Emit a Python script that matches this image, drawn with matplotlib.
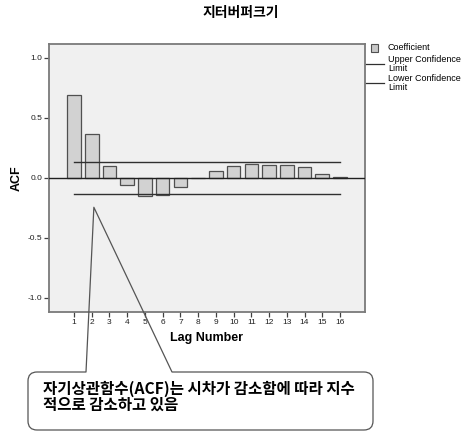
import matplotlib
matplotlib.use('Agg')
import matplotlib.pyplot as plt
from matplotlib.path import Path
from matplotlib.patches import PathPatch, Rectangle
from matplotlib.lines import Line2D

W, H = 471, 432

# acf of jitter buffer size
lags = list(range(1, 17))
acf = [0.687, 0.364, 0.100, -0.061, -0.152, -0.142, -0.075, 0.001,
       0.056, 0.100, 0.117, 0.110, 0.110, 0.087, 0.036, 0.004]
upper = [0.135] * 16
lower = [-0.137] * 16

yticks = [-1.0, -0.5, 0.0, 0.5, 1.0]
yticklabels = ['-1.0', '-0.5', '0.0', '0.5', '1.0']

title = '지터버퍼크기'
note = '자기상관함수(ACF)는 시차가 감소함에 따라 지수\n적으로 감소하고 있음'
legend_labels = ['Coefficient', 'Upper Confidence\nLimit', 'Lower Confidence\nLimit']

kr = ['Noto Sans CJK KR', 'DejaVu Sans']
lat = ['Liberation Sans', 'DejaVu Sans']
plt.rcParams['font.family'] = lat
plt.rcParams['axes.unicode_minus'] = False

def fx(x):
    return x / W

def fy(y):
    return 1 - y / H

fig = plt.figure(figsize=(W / 100, H / 100), dpi=100)
ax = fig.add_axes([fx(49), fy(312), (365 - 49) / W, (312 - 44) / H])
ax.set_facecolor('#f0f0f0')

ax.bar(lags, acf, width=0.77, color='#d2d2d2', edgecolor='#505050',
       linewidth=0.9, zorder=2)
ax.axhline(0, color='#202020', linewidth=1.0, zorder=3)
ax.plot(lags, upper, color='#303030', linewidth=1.0, zorder=3)
ax.plot(lags, lower, color='#303030', linewidth=1.0, zorder=3)

ax.set_xlim(-0.41, 17.41)
ax.set_ylim(-1.118, 1.116)
ax.set_xticks(lags)
ax.set_xticklabels([str(l) for l in lags])
ax.set_yticks(yticks)
ax.set_yticklabels(yticklabels)
ax.tick_params(direction='out', length=3.5, width=0.9, color='#404040',
               labelsize=6, pad=1.5, labelcolor='#202020')
for s in ax.spines.values():
    s.set_color('#7a7a7a')
    s.set_linewidth(1.3)

fig.text(fx(241), fy(13), title, ha='center', va='center', fontsize=10,
         fontweight='bold', family=kr)
fig.text(fx(17), fy(178), 'ACF', ha='center', va='center', rotation=90,
         fontsize=9, fontweight='bold')
fig.text(fx(207), fy(338), 'Lag Number', ha='center', va='center',
         fontsize=9, fontweight='bold')

# legend on the right
fig.patches.append(Rectangle((fx(371), fy(52)), 7 / W, 8 / H,
                             transform=fig.transFigure, facecolor='#c8c8c8',
                             edgecolor='#505050', linewidth=0.8))
for yy in (64, 83):
    fig.lines.append(Line2D([fx(366), fx(384)], [fy(yy), fy(yy)],
                            transform=fig.transFigure, color='#303030',
                            linewidth=0.9))
for lab, yy in zip(legend_labels, (48, 64, 83)):
    fig.text(fx(388), fy(yy), lab, ha='left', va='center', fontsize=6.5,
             linespacing=0.95)

# callout box pointing at the bars
tip_disp = ax.transData.transform((2.12, -0.245))
tx, ty = tip_disp[0], H - tip_disp[1]
L, R, T, B, r = 28, 373, 372, 430, 9
pts = [(86, T), (L + r, T), (L, T), (L, T + r), (L, B - r), (L, B),
       (L + r, B), (R - r, B), (R, B), (R, B - r), (R, T + r), (R, T),
       (R - r, T), (172, T), (tx, ty), (86, T)]
codes = [Path.MOVETO, Path.LINETO, Path.CURVE3, Path.CURVE3, Path.LINETO,
         Path.CURVE3, Path.CURVE3, Path.LINETO, Path.CURVE3, Path.CURVE3,
         Path.LINETO, Path.CURVE3, Path.CURVE3, Path.LINETO, Path.LINETO,
         Path.CLOSEPOLY]
path = Path([(fx(x), fy(y)) for x, y in pts], codes)
fig.patches.append(PathPatch(path, transform=fig.transFigure,
                             facecolor='none', edgecolor='#555555',
                             linewidth=0.9, joinstyle='round'))
fig.text(fx(43), fy(397), note, ha='left', va='center', fontsize=11.2,
         fontweight='bold', family=kr, linespacing=1.0)

fig.savefig('out.png', dpi=100)
